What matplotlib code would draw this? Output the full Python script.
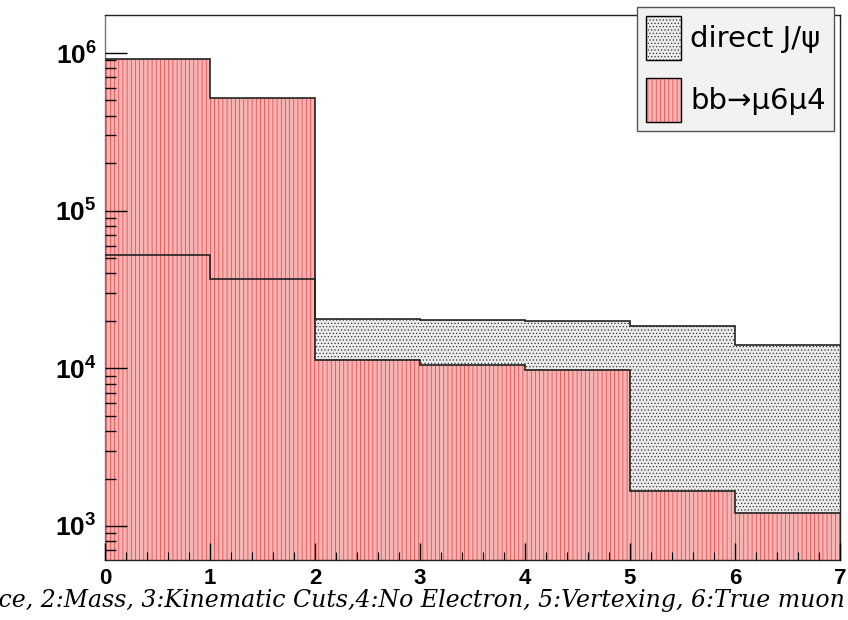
import numpy as np
import matplotlib
matplotlib.use('Agg')
import matplotlib.pyplot as plt
from matplotlib.patches import Patch
from matplotlib.legend_handler import HandlerTuple
from matplotlib.ticker import FixedLocator, MultipleLocator, FuncFormatter

edges = [0, 1, 2, 3, 4, 5, 6, 7]
direct_jpsi = [5.25e4, 3.7e4, 2.06e4, 2.03e4, 2.01e4, 1.86e4, 1.41e4]
bb_mu6mu4 = [9.2e5, 5.16e5, 1.13e4, 1.05e4, 9.7e3, 1.67e3, 1.2e3]
x_ticks = [0, 1, 2, 3, 4, 5, 6, 7]
x_title = ('0:All, 1:Acceptance, 2:Mass, 3:Kinematic Cuts,4:No Electron, '
           '5:Vertexing, 6:True muon')

plt.rcParams['font.family'] = ['Liberation Sans', 'DejaVu Sans']
plt.rcParams['mathtext.fontset'] = 'custom'
plt.rcParams['mathtext.bf'] = 'Liberation Sans:bold'
plt.rcParams['mathtext.rm'] = 'Liberation Sans:bold'
plt.rcParams['hatch.linewidth'] = 0.5

fig = plt.figure(figsize=(8.48, 6.2), dpi=100)
ax = fig.add_axes([105/848, 60/620, 735/848, 545/620])

grey_fc, grey_hc = '#ebebeb', '#333333'
red_fc, red_hc = '#f5b5b5', '#e43c3c'

# fills: grey behind, red in front
ax.stairs(direct_jpsi, edges, baseline=1, fill=True,
          facecolor=grey_fc, edgecolor=grey_hc, hatch='.....',
          linewidth=0, zorder=1)
ax.stairs(bb_mu6mu4, edges, baseline=1, fill=True,
          facecolor=red_fc, edgecolor=red_hc, hatch='||||',
          linewidth=0, zorder=2)
# outlines
ax.stairs(direct_jpsi, edges, baseline=None, color='#222222', lw=1.2, zorder=3)
ax.stairs(bb_mu6mu4, edges, baseline=None, color='#222222', lw=1.2, zorder=3)

ax.set_yscale('log')
ax.set_xlim(0, 7)
ax.set_ylim(10 ** (3 - 34 / 157.5), 10 ** (6 + 38 / 157.5))
ax.set_axisbelow(False)

ax.xaxis.set_major_locator(FixedLocator(x_ticks))
ax.xaxis.set_minor_locator(MultipleLocator(0.2))
ax.yaxis.set_major_formatter(FuncFormatter(lambda v, p: r'$\mathbf{10^{%d}}$' % round(np.log10(v))))

ax.tick_params(axis='both', which='both', direction='in', top=False, right=False)
ax.tick_params(axis='y', which='major', length=16, width=1.0, labelsize=19, pad=6)
ax.tick_params(axis='y', which='minor', length=8, width=1.0)
ax.tick_params(axis='x', which='major', length=12, width=1.0, labelsize=16, pad=6)
ax.tick_params(axis='x', which='minor', length=6, width=0.8)
for lab in ax.get_xticklabels():
    lab.set_fontweight('bold')

for s in ax.spines.values():
    s.set_linewidth(1.0)
    s.set_color('#222222')
ax.spines['left'].set_color('#777777')

fig.text(845/848, 1 - 607/620, x_title, ha='right', va='baseline',
         family='DejaVu Serif', style='italic', fontsize=17)

outline = Patch(facecolor='none', edgecolor='black', linewidth=1.0)
g_h = Patch(facecolor=grey_fc, edgecolor=grey_hc, hatch='.....', linewidth=0)
r_h = Patch(facecolor=red_fc, edgecolor=red_hc, hatch='||||', linewidth=0)
leg = fig.legend([(g_h, outline), (r_h, outline)], ['direct J/ψ', 'bb→μ6μ4'],
                 handler_map={tuple: HandlerTuple(ndivide=1)},
                 prop={'family': 'DejaVu Sans', 'size': 21},
                 loc='upper left', bbox_to_anchor=(637/848, 1 - 7/620),
                 handlelength=1.22, handleheight=1.95,
                 labelspacing=0.62, handletextpad=0.3, borderpad=0.3,
                 borderaxespad=0, fancybox=False, framealpha=1)
leg.get_frame().set_facecolor('#f2f2f2')
leg.get_frame().set_edgecolor('#555555')
leg.get_frame().set_linewidth(1.0)

fig.savefig('out.png', dpi=100)
